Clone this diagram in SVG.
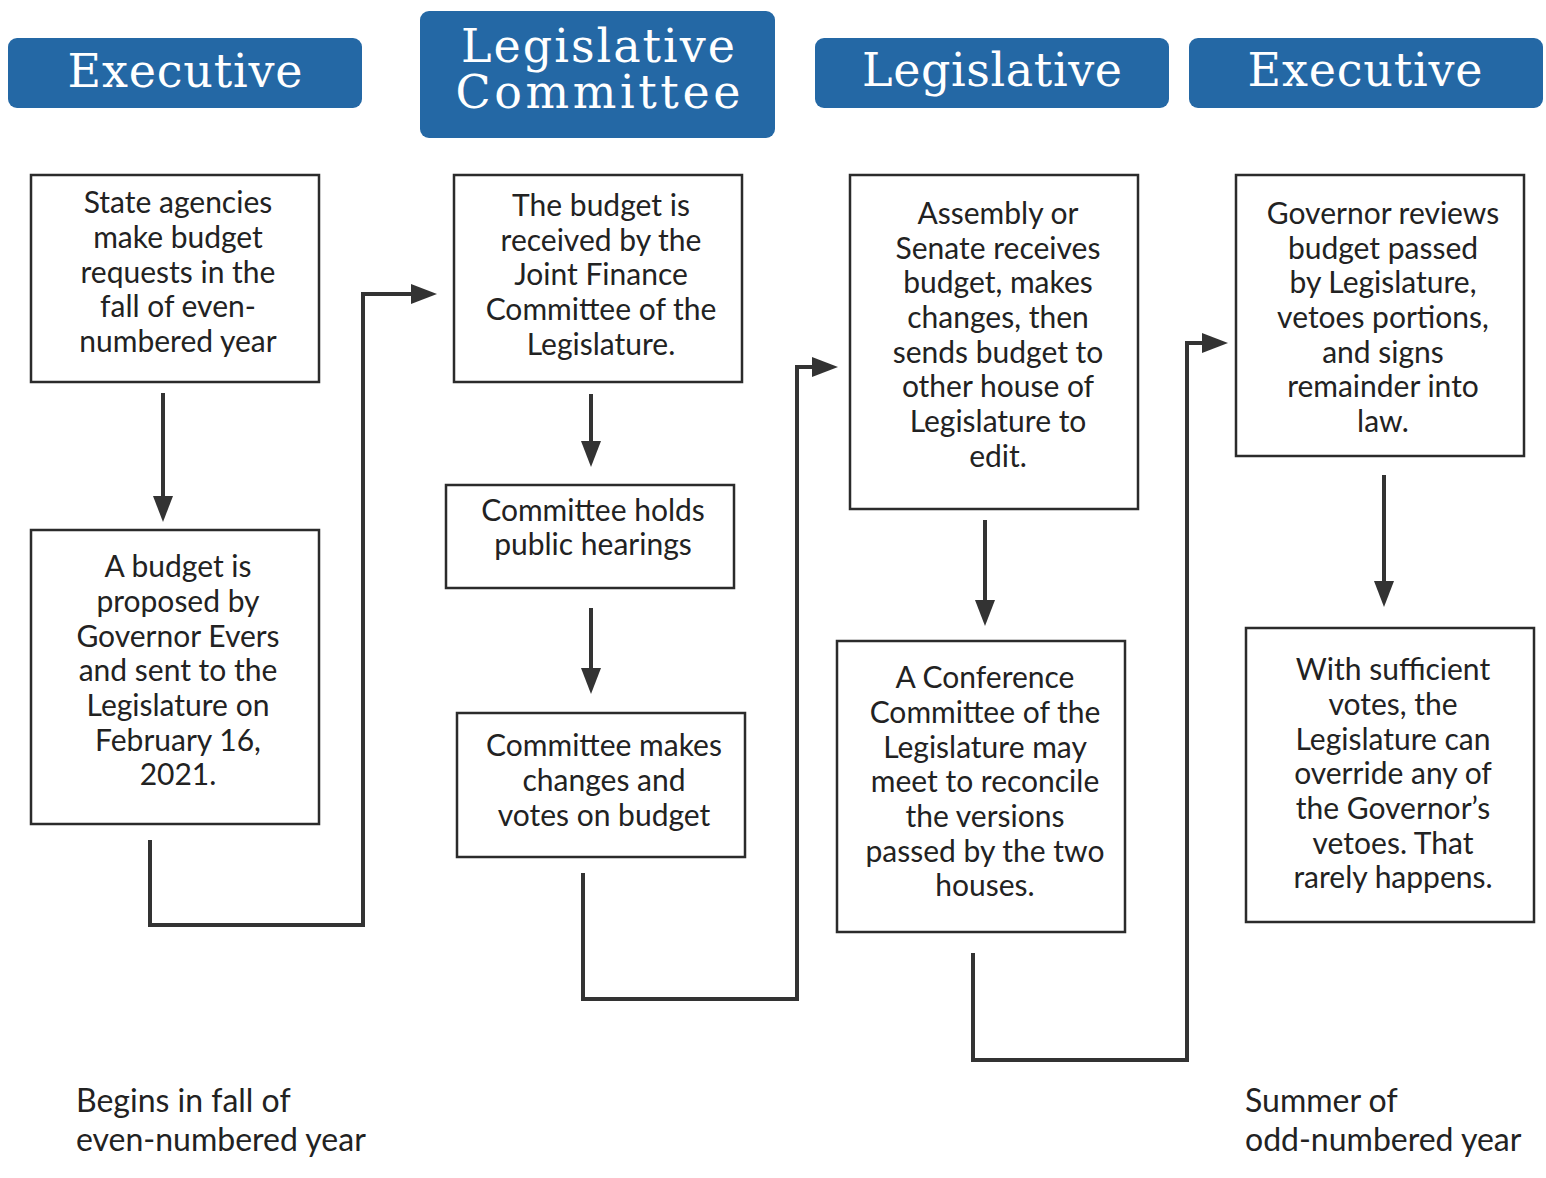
<svg xmlns="http://www.w3.org/2000/svg" width="1546" height="1178" viewBox="0 0 1546 1178">
<defs>
<marker id="ah" viewBox="0 0 26 20" markerWidth="26" markerHeight="20" refX="1" refY="10" markerUnits="userSpaceOnUse" orient="auto">
<path d="M0,0 L26,10 L0,20 z" fill="#333"/>
</marker>
<style>
.hdr rect{fill:#2468a5}
.hdr text{font-family:"DejaVu Serif",serif;font-size:46px;fill:#fff;text-anchor:middle}
.box rect{fill:#fff;stroke:#2b2b2b;stroke-width:2.5}
.box text{font-family:Lato,"Liberation Sans",sans-serif;font-size:30px;fill:#222;text-anchor:middle}
.note{font-family:Lato,"Liberation Sans",sans-serif;font-size:32px;fill:#222}
.conn path{fill:none;stroke:#333;stroke-width:4;marker-end:url(#ah)}
</style>
</defs>
<rect width="1546" height="1178" fill="#fff"/>
<g id="h1" class="hdr"><rect x="8" y="38" width="354" height="70" rx="9"/><text x="185" y="87" textLength="235">Executive</text></g>
<g id="h2" class="hdr"><rect x="420" y="11" width="355" height="127" rx="9"/><text x="598" y="62" textLength="274">Legislative</text><text x="598" y="108" textLength="285">Committee</text></g>
<g id="h3" class="hdr"><rect x="815" y="38" width="354" height="70" rx="9"/><text x="992" y="86" textLength="260">Legislative</text></g>
<g id="h4" class="hdr"><rect x="1189" y="38" width="354" height="70" rx="9"/><text x="1365" y="86" textLength="235">Executive</text></g>

<g id="nA" class="box"><rect x="31" y="175" width="288" height="207"/>
<text x="178" y="213">State agencies</text><text x="178" y="248">make budget</text><text x="178" y="283">requests in the</text><text x="178" y="317">fall of even-</text><text x="178" y="352">numbered year</text></g>
<g id="nB" class="box"><rect x="31" y="530" width="288" height="294"/>
<text x="178" y="577">A budget is</text><text x="178" y="612">proposed by</text><text x="178" y="647">Governor Evers</text><text x="178" y="681">and sent to the</text><text x="178" y="716">Legislature on</text><text x="178" y="751">February 16,</text><text x="178" y="785">2021.</text></g>
<g id="nC" class="box"><rect x="454" y="175" width="288" height="207"/>
<text x="601" y="216">The budget is</text><text x="601" y="251">received by the</text><text x="601" y="285">Joint Finance</text><text x="601" y="320">Committee of the</text><text x="601" y="355">Legislature.</text></g>
<g id="nD" class="box"><rect x="446" y="485" width="288" height="103"/>
<text x="593" y="521">Committee holds</text><text x="593" y="555">public hearings</text></g>
<g id="nE" class="box"><rect x="457" y="713" width="288" height="144"/>
<text x="604" y="756">Committee makes</text><text x="604" y="791">changes and</text><text x="604" y="826">votes on budget</text></g>
<g id="nF" class="box"><rect x="850" y="175" width="288" height="334"/>
<text x="998" y="224">Assembly or</text><text x="998" y="259">Senate receives</text><text x="998" y="293">budget, makes</text><text x="998" y="328">changes, then</text><text x="998" y="363">sends budget to</text><text x="998" y="397">other house of</text><text x="998" y="432">Legislature to</text><text x="998" y="467">edit.</text></g>
<g id="nG" class="box"><rect x="837" y="641" width="288" height="291"/>
<text x="985" y="688">A Conference</text><text x="985" y="723">Committee of the</text><text x="985" y="758">Legislature may</text><text x="985" y="792">meet to reconcile</text><text x="985" y="827">the versions</text><text x="985" y="862">passed by the two</text><text x="985" y="896">houses.</text></g>
<g id="nH" class="box"><rect x="1236" y="175" width="288" height="281"/>
<text x="1383" y="224">Governor reviews</text><text x="1383" y="259">budget passed</text><text x="1383" y="293">by Legislature,</text><text x="1383" y="328">vetoes portions,</text><text x="1383" y="363">and signs</text><text x="1383" y="397">remainder into</text><text x="1383" y="432">law.</text></g>
<g id="nI" class="box"><rect x="1246" y="628" width="288" height="294"/>
<text x="1393" y="680">With sufficient</text><text x="1393" y="715">votes, the</text><text x="1393" y="750">Legislature can</text><text x="1393" y="784">override any of</text><text x="1393" y="819">the Governor’s</text><text x="1393" y="854">vetoes. That</text><text x="1393" y="888">rarely happens.</text></g>

<g id="connectors" class="conn">
<path d="M163,393 V497"/>
<path d="M150,840 V925 H363 V294 H412"/>
<path d="M591,394 V442"/>
<path d="M591,608 V669"/>
<path d="M583,873 V999 H797 V367 H813"/>
<path d="M985,520 V601"/>
<path d="M973,953 V1060 H1187 V343 H1203"/>
<path d="M1384,475 V582"/>
</g>

<g id="notes">
<text class="note" x="76" y="1112">Begins in fall of</text>
<text class="note" x="76" y="1151">even-numbered year</text>
<text class="note" x="1245" y="1112">Summer of</text>
<text class="note" x="1245" y="1151">odd-numbered year</text>
</g>
</svg>
